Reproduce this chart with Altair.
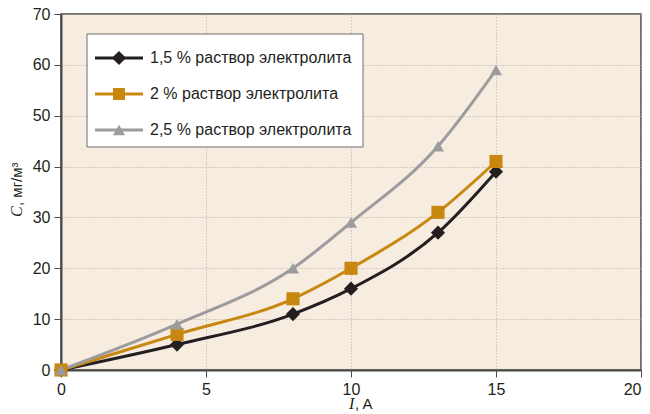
import altair as alt
import pandas as pd

# ---- data ----
current_A = [0, 4, 8, 10, 13, 15]
series_names = [
    "1,5 % раствор электролита",
    "2 % раствор электролита",
    "2,5 % раствор электролита",
]
conc_15 = [0, 5, 11, 16, 27, 39]
conc_20 = [0, 7, 14, 20, 31, 41]
conc_25 = [0, 9, 20, 29, 44, 59]

x_ticks = [0, 5, 10, 15, 20]
y_ticks = [0, 10, 20, 30, 40, 50, 60, 70]

colors = ["#231f20", "#c8870f", "#9c9c9e"]
shapes = ["diamond", "square", "triangle-up"]
sizes = [200, 144, 150]

rows = []
for name, vals in zip(series_names, [conc_15, conc_20, conc_25]):
    for x, y in zip(current_A, vals):
        rows.append({"I": x, "C": y, "series": name})
df = pd.DataFrame(rows)

x_enc = alt.X("I:Q", scale=alt.Scale(domain=[0, 20], nice=False),
              axis=alt.Axis(values=x_ticks, title=None, grid=True, labelFlush=False,
                            labelAlign={"condition": {"test": "datum.value >= 20", "value": "right"},
                                        "value": "center"}))
y_enc = alt.Y("C:Q", scale=alt.Scale(domain=[0, 70], nice=False),
              axis=alt.Axis(values=y_ticks, title=None, grid=True, labelFlush=False))
color_enc = alt.Color("series:N", scale=alt.Scale(domain=series_names, range=colors), legend=None)

lines = alt.Chart(df).mark_line(strokeWidth=3, interpolate="monotone").encode(
    x=x_enc, y=y_enc, color=color_enc, detail="series:N"
)
points = alt.Chart(df).mark_point(filled=True, opacity=1).encode(
    x="I:Q", y="C:Q", color=color_enc,
    shape=alt.Shape("series:N", scale=alt.Scale(domain=series_names, range=shapes), legend=None),
    size=alt.Size("series:N", scale=alt.Scale(domain=series_names, range=sizes), legend=None),
)

one = pd.DataFrame({"k": [0]})

# ---- axis titles (italic symbol + units) ----
def txt(text, x, y, italic=False, angle=0):
    kw = dict(align="left", baseline="middle", fontSize=15, color="#231f20",
              font="Liberation Serif" if italic else "Liberation Sans")
    if italic:
        kw["fontStyle"] = "italic"
        kw["fontSize"] = 16
    if angle:
        kw["angle"] = angle
    return alt.Chart(one).mark_text(text=text, **kw).encode(x=alt.value(x), y=alt.value(y))

titles = [
    txt("I", 288, 390, italic=True),
    txt(", A", 294, 390),
    txt("C", -44, 203, italic=True, angle=270),
    txt(", мг/м³", -44, 192, angle=270),
]

# ---- legend (drawn inside the plot, white box) ----
leg_df = pd.DataFrame({"series": series_names})
box = alt.Chart(one).mark_rect(
    fill="white", stroke="#6d6d6d", strokeWidth=1
).encode(x=alt.value(26), x2=alt.value(302), y=alt.value(20), y2=alt.value(133))

legend_layers = [box]
row_y = [44, 80, 116]
for i, name in enumerate(series_names):
    d = leg_df[leg_df["series"] == name]
    legend_layers.append(
        alt.Chart(d).mark_rule(strokeWidth=3, color=colors[i]).encode(
            x=alt.value(34), x2=alt.value(82), y=alt.value(row_y[i]))
    )
    legend_layers.append(
        alt.Chart(d).mark_point(filled=True, opacity=1, shape=shapes[i], size=sizes[i], color=colors[i]).encode(
            x=alt.value(58), y=alt.value(row_y[i]))
    )
    legend_layers.append(
        alt.Chart(d).mark_text(align="left", baseline="middle", fontSize=16,
                               font="Liberation Sans", color="#231f20").encode(
            x=alt.value(89), y=alt.value(row_y[i]), text="series:N")
    )

chart = alt.layer(lines, points, *legend_layers, *titles).properties(
    width=580, height=356,
    autosize=alt.AutoSizeParams(type="none"),
    padding={"left": 53, "top": 6, "right": 1, "bottom": 42},
    background="white",
).configure_view(
    fill="#f6ecdf", stroke="#4a4a4a", strokeWidth=1.5
).configure_axis(
    domainColor="#4a4a4a", domainWidth=2,
    tickColor="#4a4a4a", tickSize=7, tickWidth=1,
    labelFont="Liberation Sans", labelFontSize=16, labelColor="#231f20",
    labelPadding=4,
    gridColor="#b5aca3", gridDash=[1, 2], gridWidth=1,
)

chart.save("out.html", embed_options={"renderer": "svg", "actions": False})
